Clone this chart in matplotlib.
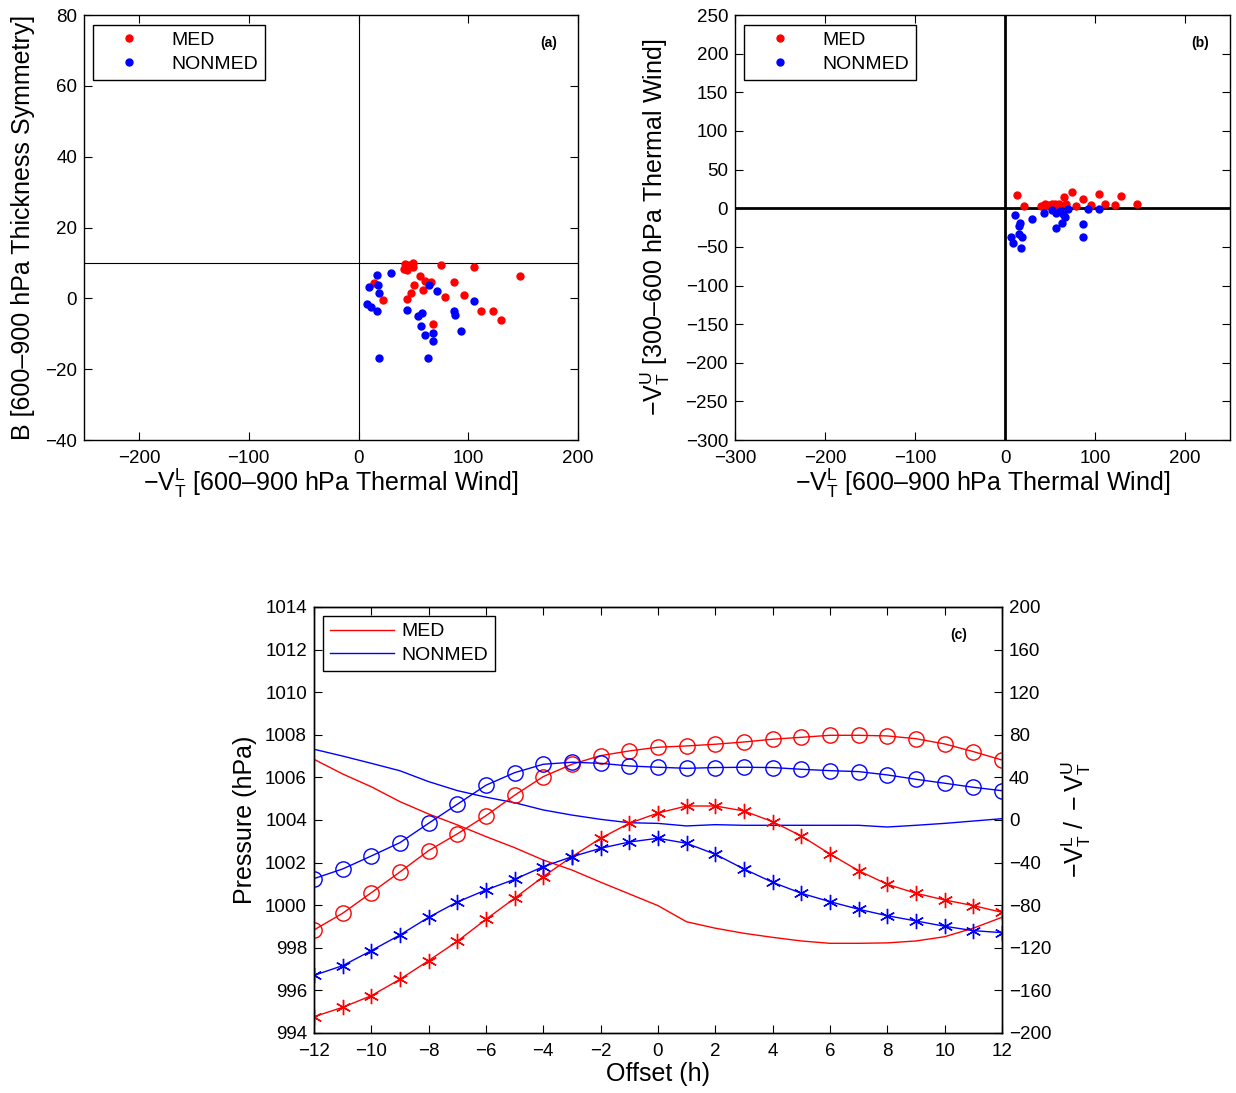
import numpy as np
import matplotlib
matplotlib.use("Agg")
import matplotlib.pyplot as plt
from matplotlib.lines import Line2D

plt.rcParams["font.family"] = ["Liberation Sans", "DejaVu Sans"]
plt.rcParams["mathtext.fontset"] = "custom"
plt.rcParams["mathtext.rm"] = "Liberation Sans"
plt.rcParams["mathtext.it"] = "Liberation Sans"
plt.rcParams["axes.linewidth"] = 1.0

# ── panel (a) data: -V_T^L vs B ───────────────────────────────────────────────
a_med_x = [42.6, 49.8, 46.1, 41.0, 44.5, 49.6, 46.9, 75.0, 105.5, 147.0, 14.0,
           55.8, 51.0, 61.0, 66.4, 58.5, 48.0, 44.0, 22.0, 87.0, 78.5, 96.0,
           111.5, 122.4, 129.7, 68.2]
a_med_y = [9.8, 10.0, 9.4, 8.2, 7.9, 8.8, 9.2, 9.3, 8.8, 6.2, 4.4,
           6.3, 3.8, 4.8, 4.7, 2.4, 1.6, -0.1, -0.4, 4.5, 0.3, 0.9,
           -3.7, -3.7, -6.2, -7.1]
a_non_x = [17.0, 30.0, 9.4, 17.9, 19.0, 7.3, 11.5, 16.4, 18.5, 64.5, 71.8,
           44.2, 54.2, 57.6, 56.7, 60.3, 67.6, 67.9, 63.0, 87.3, 87.9, 105.2,
           93.0]
a_non_y = [6.5, 7.1, 3.2, 3.9, 1.4, -1.7, -2.4, -3.7, -16.9, 3.9, 2.2,
           -3.4, -4.9, -4.1, -7.8, -10.2, -9.9, -12.0, -16.8, -3.5, -4.7, -0.8,
           -9.2]

# ── panel (b) data: -V_T^L vs -V_T^U ──────────────────────────────────────────
b_med_x = [13.0, 21.5, 40.0, 44.0, 48.0, 52.0, 56.0, 60.0, 46.0, 54.0,
           65.6, 74.0, 68.0, 78.9, 87.0, 95.5, 104.8, 111.0, 122.0, 129.0, 147.0]
b_med_y = [17.0, 2.8, 3.5, 5.0, 4.0, 5.5, 5.0, 6.0, 2.5, 3.0,
           15.0, 20.5, 6.0, 2.8, 12.0, 4.0, 19.0, 5.4, 4.0, 15.8, 5.0]
b_non_x = [11.0, 29.6, 16.7, 16.0, 15.5, 18.5, 6.7, 9.3, 17.8, 43.7,
           52.0, 57.0, 61.0, 64.5, 70.0, 66.7, 63.0, 56.7, 87.0, 87.0, 92.6, 104.5]
b_non_y = [-8.8, -14.4, -18.7, -23.0, -33.4, -36.9, -37.7, -44.6, -52.0, -6.6,
           -2.5, -6.0, -3.0, -7.5, -1.5, -11.0, -18.7, -26.0, -20.5, -36.8, -1.5, -0.5]

# ── panel (c) data: composites vs offset ─────────────────────────────────────
offset = list(range(-12, 13))
p_med = [1006.85, 1006.16, 1005.56, 1004.86, 1004.28, 1003.77, 1003.22, 1002.70,
         1002.12, 1001.65, 1001.08, 1000.53, 999.98, 999.22, 998.92, 998.68,
         998.49, 998.32, 998.21, 998.21, 998.23, 998.32, 998.52, 998.92, 999.43]
p_non = [1007.32, 1007.00, 1006.66, 1006.31, 1005.80, 1005.38, 1005.07, 1004.81,
         1004.47, 1004.23, 1004.03, 1003.87, 1003.84, 1003.72, 1003.78, 1003.75,
         1003.75, 1003.75, 1003.75, 1003.75, 1003.67, 1003.75, 1003.84, 1003.95,
         1004.06]
vl_med = [-103.3, -87.6, -68.3, -48.8, -28.8, -13.1, 4.0, 23.2, 40.7, 52.3, 60.4,
          64.8, 68.3, 69.5, 71.1, 73.2, 75.8, 77.6, 79.5, 79.5, 78.9, 76.3, 71.4,
          64.2, 56.3]
vl_non = [-55.1, -46.0, -33.8, -21.3, -3.1, 14.7, 32.6, 44.4, 52.3, 54.2, 53.2,
          50.7, 49.5, 48.5, 49.2, 49.5, 49.2, 47.6, 46.3, 45.4, 42.3, 38.2, 34.5,
          30.7, 27.5]
vu_med = [-184.7, -175.9, -165.0, -149.6, -132.1, -113.9, -93.3, -73.5, -53.2,
          -34.5, -17.2, -3.1, 6.5, 13.1, 13.1, 8.5, -1.6, -15.0, -31.9, -47.6,
          -60.4, -68.8, -75.1, -80.4, -86.7]
vu_non = [-145.9, -136.8, -122.7, -108.0, -91.4, -77.0, -65.7, -55.7, -43.8,
          -34.5, -26.6, -20.7, -17.2, -21.9, -32.2, -46.0, -58.5, -68.8, -76.7,
          -83.8, -89.9, -94.8, -99.8, -103.9, -105.8]

RED, BLUE = "#ff0000", "#0000ff"
TICK_FS, LABEL_FS, LEG_FS = 13.5, 18, 14
XL_LABEL = r"$\mathrm{-V_T^L}$ [600–900 hPa Thermal Wind]"


def matlab_axes(ax):
    ax.tick_params(direction="in", top=True, right=True, labelsize=TICK_FS,
                   length=6, width=0.8)
    ax.tick_params(axis="x", pad=7)
    ax.tick_params(axis="y", pad=5)


def scatter_legend(ax):
    h = [Line2D([], [], ls="none", marker="o", ms=5, color=RED),
         Line2D([], [], ls="none", marker="o", ms=5, color=BLUE)]
    leg = ax.legend(h, ["MED", "NONMED"], loc="upper left",
                    bbox_to_anchor=(0.018, 0.977), borderaxespad=0,
                    fontsize=LEG_FS, fancybox=False, framealpha=1,
                    edgecolor="black", handlelength=3.0, handletextpad=0.7,
                    borderpad=0.35, labelspacing=0.3)
    leg.get_frame().set_linewidth(1.0)


fig = plt.figure(figsize=(12.36, 10.93), dpi=100)

# ── (a) ───────────────────────────────────────────────────────────────────────
ax1 = fig.add_axes([0.068, 0.5974, 0.3997, 0.3888])
ax1.axvline(0, color="black", lw=0.8)
ax1.axhline(10, color="black", lw=0.8)
ax1.plot(a_med_x, a_med_y, ls="none", marker="o", ms=5, color=RED)
ax1.plot(a_non_x, a_non_y, ls="none", marker="o", ms=5, color=BLUE)
ax1.set_xlim(-250, 200)
ax1.set_ylim(-40, 80)
ax1.set_xticks([-200, -100, 0, 100, 200])
ax1.set_yticks(range(-40, 81, 20))
matlab_axes(ax1)
ax1.set_xlabel(XL_LABEL, fontsize=LABEL_FS, labelpad=0)
ax1.set_ylabel("B [600–900 hPa Thickness Symmetry]", fontsize=LABEL_FS, labelpad=7)
ax1.text(0.94, 0.935, "(a)", transform=ax1.transAxes, fontsize=10,
         fontweight="bold", ha="center", va="center")
scatter_legend(ax1)

# ── (b) ───────────────────────────────────────────────────────────────────────
ax2 = fig.add_axes([0.5947, 0.5974, 0.4005, 0.3888])
ax2.axvline(0, color="black", lw=2.0)
ax2.axhline(0, color="black", lw=2.0)
ax2.plot(b_med_x, b_med_y, ls="none", marker="o", ms=5, color=RED)
ax2.plot(b_non_x, b_non_y, ls="none", marker="o", ms=5, color=BLUE)
ax2.set_xlim(-300, 250)
ax2.set_ylim(-300, 250)
ax2.set_xticks([-300, -200, -100, 0, 100, 200])
ax2.set_yticks(range(-300, 251, 50))
matlab_axes(ax2)
ax2.set_xlabel(XL_LABEL, fontsize=LABEL_FS, labelpad=0)
ax2.set_ylabel(r"$\mathrm{-V_T^U}$ [300–600 hPa Thermal Wind]", fontsize=LABEL_FS,
               labelpad=10)
ax2.text(0.94, 0.935, "(b)", transform=ax2.transAxes, fontsize=10,
         fontweight="bold", ha="center", va="center")
scatter_legend(ax2)

# ── (c) ───────────────────────────────────────────────────────────────────────
ax3 = fig.add_axes([0.254, 0.0549, 0.5566, 0.3898])
ax3.plot(offset, p_med, color=RED, lw=1.0, label="MED")
ax3.plot(offset, p_non, color=BLUE, lw=1.0, label="NONMED")
ax3.set_xlim(-12, 12)
ax3.set_ylim(994, 1014)
ax3.set_xticks(range(-12, 13, 2))
ax3.set_yticks(range(994, 1015, 2))
ax3.tick_params(direction="in", top=True, right=False, labelsize=TICK_FS,
                length=6, width=0.8)
ax3.tick_params(axis="x", pad=7)
ax3.tick_params(axis="y", pad=5)
ax3.set_xlabel("Offset (h)", fontsize=LABEL_FS, labelpad=2)
ax3.set_ylabel("Pressure (hPa)", fontsize=LABEL_FS, labelpad=6)
ax3.text(0.937, 0.935, "(c)", transform=ax3.transAxes, fontsize=10,
         fontweight="bold", ha="center", va="center")
leg = ax3.legend(loc="upper left", bbox_to_anchor=(0.013, 0.979), borderaxespad=0,
                 fontsize=LEG_FS, fancybox=False, framealpha=1, edgecolor="black",
                 handlelength=3.3, handletextpad=0.4, borderpad=0.35,
                 labelspacing=0.3)
leg.get_frame().set_linewidth(1.0)

ax4 = ax3.twinx()
star = (6, 2, 0)
ax4.plot(offset, vl_med, color=RED, lw=1.0, marker="o", ms=11, mfc="none", mew=1.0)
ax4.plot(offset, vl_non, color=BLUE, lw=1.0, marker="o", ms=11, mfc="none", mew=1.0)
ax4.plot(offset, vu_med, color=RED, lw=1.0, marker=star, ms=11, mew=1.0)
ax4.plot(offset, vu_non, color=BLUE, lw=1.0, marker=star, ms=11, mew=1.0)
ax4.set_ylim(-200, 200)
ax4.set_yticks(range(-200, 201, 40))
ax4.tick_params(direction="in", labelsize=TICK_FS, length=6, width=0.8, pad=5)
ax4.set_ylabel(r"$\mathrm{-V_T^L\ /\ -V_T^U}$", fontsize=LABEL_FS, rotation=90,
               labelpad=6)

fig.savefig("out.png", dpi=100)
